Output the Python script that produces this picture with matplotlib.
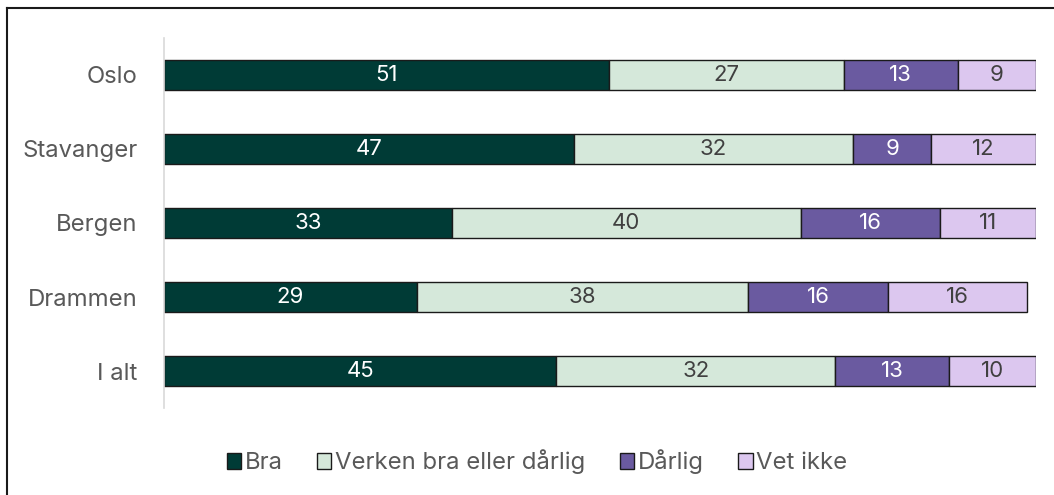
import matplotlib
matplotlib.use("Agg")
import matplotlib.pyplot as plt
from matplotlib.patches import Patch

categories = ["Oslo", "Stavanger", "Bergen", "Drammen", "I alt"]
series_names = ["Bra", "Verken bra eller dårlig", "Dårlig", "Vet ikke"]
bra = [51, 47, 33, 29, 45]
verken = [27, 32, 40, 38, 32]
darlig = [13, 9, 16, 16, 13]
vet_ikke = [9, 12, 11, 16, 10]

colors = ["#003B36", "#D5E8DA", "#6A5AA0", "#DCC7EF"]
text_colors = ["white", "#404040", "white", "#404040"]

plt.rcParams['font.family'] = ['Inter', 'DejaVu Sans']

fig = plt.figure(figsize=(10.54, 4.95), dpi=100)
ax = fig.add_axes([164/1054, 1-408/495, (1036-164)/1054, 370/495])

ypos = list(range(len(categories)))
left = [0]*len(categories)
for vals, col, tc, name in zip([bra, verken, darlig, vet_ikke], colors, text_colors, series_names):
    ax.barh(ypos, vals, left=left, height=0.405, color=col,
            edgecolor="#1a1a1a", linewidth=1.0, label=name)
    for y, v, l in zip(ypos, vals, left):
        ax.text(l + v/2, y, str(v), ha="center", va="center",
                color=tc, fontsize=16)
    left = [a+b for a, b in zip(left, vals)]

ax.set_xlim(0, 100)
ax.set_ylim(len(categories)-0.5, -0.5)
ax.set_yticks(ypos)
ax.set_yticklabels(categories, fontsize=17.2, color="#595959")
ax.tick_params(axis="y", length=0, pad=19)
ax.set_xticks([])
for s in ["top", "right", "bottom"]:
    ax.spines[s].set_visible(False)
ax.spines["left"].set_color("#D9D9D9")
ax.spines["left"].set_linewidth(1.2)

handles = [Patch(facecolor=c, edgecolor="#1a1a1a", linewidth=1.0) for c in colors]
fig.legend(handles, series_names, loc="center", bbox_to_anchor=(537/1054, 1-462/495),
           ncol=4, frameon=False, fontsize=17.2, labelcolor="#595959",
           handlelength=0.6, handleheight=0.6, handletextpad=0.15, columnspacing=1.45)

# figure frame (top and left edges visible)
fig.add_artist(plt.Line2D([7/1054, 7/1054], [0, 1-8/495], transform=fig.transFigure,
                          color="#1a1a1a", linewidth=1.5))
fig.add_artist(plt.Line2D([7/1054, 1], [1-8/495, 1-8/495], transform=fig.transFigure,
                          color="#1a1a1a", linewidth=1.5))

fig.savefig("out.png", dpi=100)
